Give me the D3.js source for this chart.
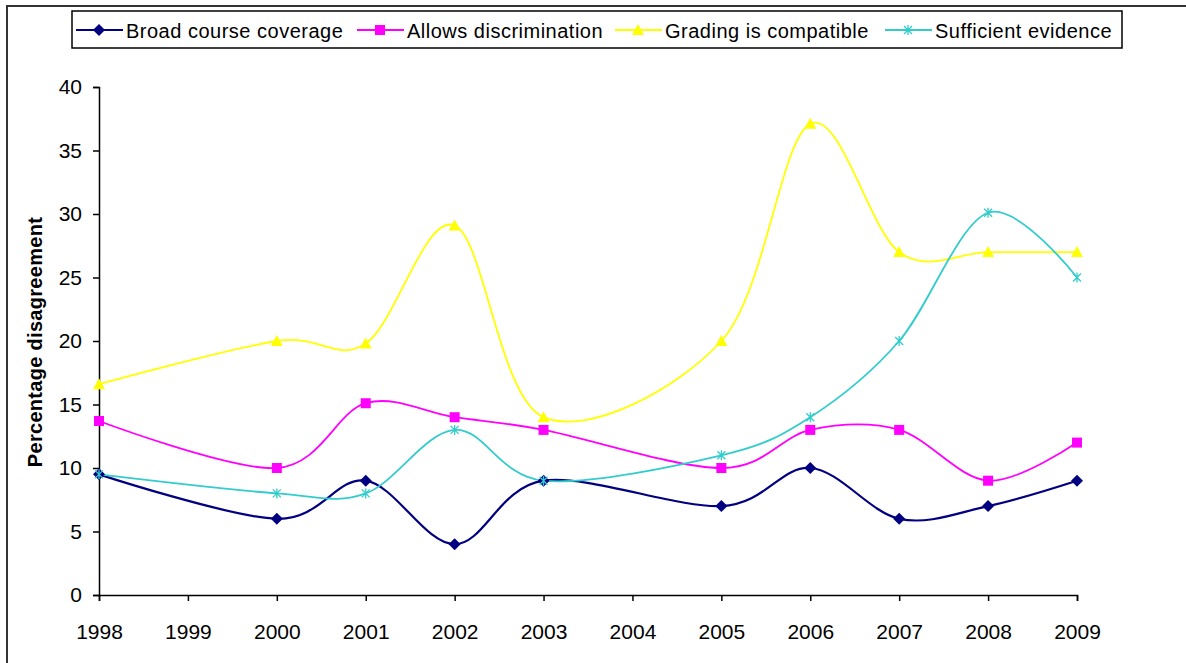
<!DOCTYPE html>
<html>
<head>
<meta charset="utf-8">
<script src="https://cdn.jsdelivr.net/npm/d3@7"></script>
<style>
  html, body { margin: 0; padding: 0; background: #fff; }
  svg { display: block; }
  text { font-family: "Liberation Sans", Arial, sans-serif; fill: #000; }
</style>
</head>
<body>
<svg id="chart" width="1186" height="663"></svg>
<script>
// Survey years shown on the x axis
const years = [1998, 1999, 2000, 2001, 2002, 2003, 2004, 2005, 2006, 2007, 2008, 2009];
// Years that have survey results (no survey in 1999 or 2004)
const surveyYears = [1998, 2000, 2001, 2002, 2003, 2005, 2006, 2007, 2008, 2009];

// Percentage disagreement per criterion, one value per survey year
const broadCoverage   = [9.5, 6, 9, 4, 9, 7, 10, 6, 7, 9];
const discrimination  = [13.7, 10, 15.1, 14, 13, 10, 13, 13, 9, 12];
const gradingCompat   = [16.6, 20, 19.8, 29.1, 14, 20, 37.1, 27, 27, 27];
const sufficientEvid  = [9.5, 8, 8, 13, 9, 11, 14, 20, 30.1, 25];

const seriesNames = ["Broad course coverage", "Allows discrimination", "Grading is compatible", "Sufficient evidence"];
const yTicks = [0, 5, 10, 15, 20, 25, 30, 35, 40];

const series = [
  { name: seriesNames[0], values: broadCoverage,  color: "#000080", marker: "diamond" },
  { name: seriesNames[1], values: discrimination, color: "#ff00ff", marker: "square" },
  { name: seriesNames[2], values: gradingCompat,  color: "#ffff00", marker: "triangle" },
  { name: seriesNames[3], values: sufficientEvid, color: "#33cccc", marker: "star" }
];

const svg = d3.select("#chart");

// Outer chart frame
svg.append("rect")
  .attr("x", 7).attr("y", 6)
  .attr("width", 1200).attr("height", 700)
  .attr("fill", "#fff")
  .attr("stroke", "#333").attr("stroke-width", 2);

const x = d3.scaleLinear().domain([1998, 2009]).range([99, 1077]);
const y = d3.scaleLinear().domain([0, 40]).range([595, 87]);

const tickFont = "Liberation Sans, Arial, sans-serif";

// Y axis
const yAxis = d3.axisLeft(y).tickValues(yTicks).tickSize(6).tickPadding(11);
const gy = svg.append("g").attr("transform", "translate(99,0)").call(yAxis);
gy.select(".domain").attr("stroke", "#000").attr("stroke-width", 1.5);
gy.selectAll(".tick line").attr("stroke", "#000").attr("stroke-width", 1.5);
gy.selectAll(".tick text").attr("font-size", 21).attr("font-family", tickFont);

// X axis
const xAxis = d3.axisBottom(x).tickValues(years).tickFormat(d3.format("d")).tickSize(6).tickPadding(23);
const gx = svg.append("g").attr("transform", "translate(0,595)").call(xAxis);
gx.select(".domain").attr("stroke", "#000").attr("stroke-width", 1.5);
gx.selectAll(".tick line").attr("stroke", "#000").attr("stroke-width", 1.5);
gx.selectAll(".tick text").attr("font-size", 21).attr("font-family", tickFont);

// Y axis title
svg.append("text")
  .attr("transform", "translate(42,342) rotate(-90)")
  .attr("text-anchor", "middle")
  .attr("font-size", 20)
  .attr("font-weight", "bold")
  .attr("letter-spacing", 0.3)
  .text("Percentage disagreement");

// Smoothed lines
const line = d3.line()
  .x((d, i) => x(surveyYears[i]))
  .y(d => y(d))
  .curve(d3.curveCardinal.tension(0));

const plot = svg.append("g");

function drawMarker(g, type, color, cx, cy) {
  if (type === "diamond") {
    g.append("path")
      .attr("d", `M${cx},${cy - 6}L${cx + 6},${cy}L${cx},${cy + 6}L${cx - 6},${cy}Z`)
      .attr("fill", color);
  } else if (type === "square") {
    g.append("rect")
      .attr("x", cx - 5).attr("y", cy - 5).attr("width", 10).attr("height", 10)
      .attr("fill", color);
  } else if (type === "triangle") {
    g.append("path")
      .attr("d", `M${cx},${cy - 6}L${cx + 6},${cy + 5}L${cx - 6},${cy + 5}Z`)
      .attr("fill", color);
  } else if (type === "star") {
    g.append("path")
      .attr("d", `M${cx - 4},${cy - 4}L${cx + 4},${cy + 4}M${cx - 4},${cy + 4}L${cx + 4},${cy - 4}M${cx},${cy - 5}L${cx},${cy + 5}`)
      .attr("stroke", color).attr("stroke-width", 1.3).attr("fill", "none");
  }
}

series.forEach(s => {
  plot.append("path")
    .datum(s.values)
    .attr("d", line)
    .attr("fill", "none")
    .attr("stroke", s.color)
    .attr("stroke-width", s.marker === "diamond" ? 2.2 : 1.8);
});
series.forEach(s => {
  const g = plot.append("g");
  s.values.forEach((v, i) => drawMarker(g, s.marker, s.color, x(surveyYears[i]), y(v)));
});

// Legend
const legend = svg.append("g");
legend.append("rect")
  .attr("x", 72).attr("y", 11).attr("width", 1050).attr("height", 37)
  .attr("fill", "#fff").attr("stroke", "#000").attr("stroke-width", 1.5);

const legendX = [76, 357, 615, 885];
series.forEach((s, i) => {
  const lx = legendX[i], ly = 30;
  legend.append("line")
    .attr("x1", lx).attr("x2", lx + 47).attr("y1", ly).attr("y2", ly)
    .attr("stroke", s.color).attr("stroke-width", s.marker === "diamond" ? 2.2 : 1.8);
  drawMarker(legend, s.marker, s.color, lx + 23, ly);
  legend.append("text")
    .attr("x", lx + 50).attr("y", ly + 7.5)
    .attr("font-size", 20)
    .attr("letter-spacing", 0.5)
    .text(s.name);
});
</script>
</body>
</html>
